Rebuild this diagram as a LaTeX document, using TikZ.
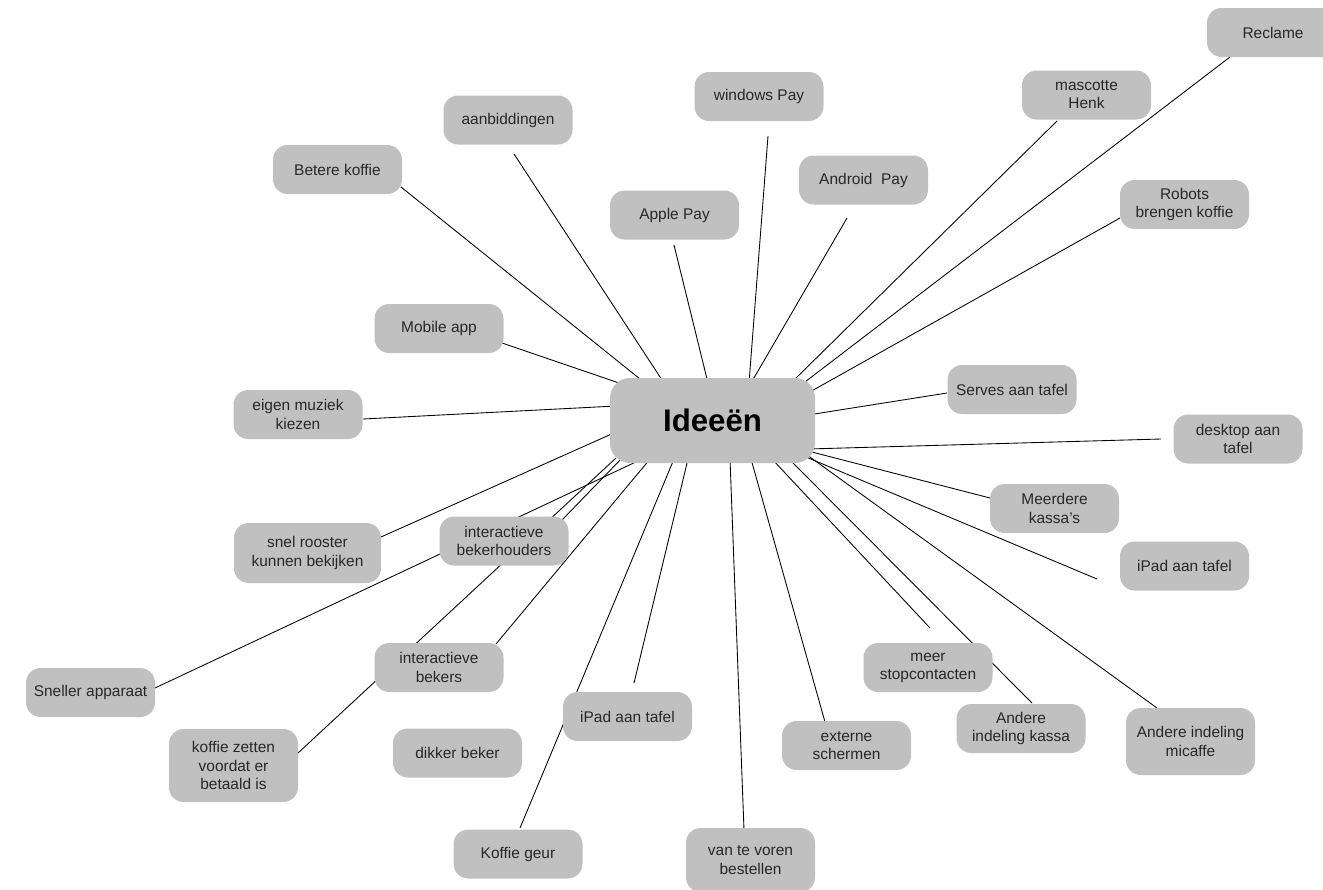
\documentclass[tikz,border=0pt]{standalone}
\usepackage{fontspec}
\setmainfont{Liberation Sans}
\usetikzlibrary{backgrounds}
\definecolor{boxgray}{RGB}{192,192,192}
\definecolor{txtgray}{RGB}{40,40,40}
\begin{document}
\begin{tikzpicture}[x=0.75pt,y=-0.75pt,
  idea/.style={fill=boxgray, rounded corners=11pt, align=center, inner sep=0pt,
    text=txtgray, font=\fontsize{11.6}{13.6}\selectfont,
    minimum width=96.75pt, minimum height=36.75pt},
  hub/.style={fill=boxgray, rounded corners=15pt, inner sep=0pt,
    font=\fontsize{23.4}{26}\selectfont\bfseries,
    minimum width=153.75pt, minimum height=63.75pt},
  link/.style={draw=black, line width=0.65pt}]
\useasboundingbox (0,0) rectangle (1323,889);

% central idea
\node[hub] (idee) at (712.5,420.5) {Ideeën};

% surrounding ideas
\node[idea, minimum width=99pt] (reclame) at (1273,32.5) {Reclame};
\node[idea] (henk) at (1086.5,95) {mascotte\\Henk};
\node[idea] (winpay) at (759,96.5) {windows Pay};
\node[idea] (aanb) at (508,120) {aanbiddingen};
\node[idea] (beter) at (337.5,169.5) {Betere koffie};
\node[idea] (andpay) at (863.5,180) {Android~~Pay};
\node[idea] (robots) at (1184.5,204.5) {Robots\\brengen koffie};
\node[idea] (applepay) at (674.5,215) {Apple Pay};
\node[idea] (mobile) at (439,328.5) {Mobile app};
\node[idea] (serves) at (1012,389.5) {Serves aan tafel};
\node[idea] (muziek) at (298,414.5) {eigen muziek\\kiezen};
\node[idea] (desktop) at (1238,439) {desktop aan\\tafel};
\node[idea] (kassas) at (1054.5,508.5) {Meerdere\\kassa's};
\node[idea] (houders) at (504,541) {interactieve\\bekerhouders};
\node[idea, minimum width=110.25pt, minimum height=45pt] (rooster) at (307.5,553) {snel rooster\\kunnen bekijken};
\node[idea] (ipadr) at (1184.5,566) {iPad aan tafel};
\node[idea] (stop) at (928,667.5) {meer\\stopcontacten};
\node[idea] (bekers) at (439,667.5) {interactieve\\bekers};
\node[idea] (sneller) at (90.5,692.5) {Sneller apparaat};
\node[idea] (ipadb) at (627.5,716.5) {iPad aan tafel};
\node[idea] (kassa) at (1021,728.5) {Andere\\indeling kassa};
\node[idea, minimum height=50.25pt] (micaffe) at (1190.5,741.5) {Andere indeling\\micaffe};
\node[idea] (extern) at (846.5,745.5) {externe\\schermen};
\node[idea, minimum height=54.75pt] (zetten) at (233.5,765.5) {koffie zetten\\voordat er\\betaald is};
\node[idea] (dikker) at (457.5,753) {dikker beker};
\node[idea] (geur) at (518,854) {Koffie geur};
\node[idea, minimum height=48pt] (voren) at (750.5,860) {van te voren\\bestellen};

% connector ends: outer point (o) and the point under the hub (h)
\coordinate (mobile-o) at (502,343);   \coordinate (mobile-h) at (622,384);
\coordinate (beter-o) at (401,187);    \coordinate (beter-h) at (645,383);
\coordinate (aanb-o) at (514,154);     \coordinate (aanb-h) at (664,383);
\coordinate (apple-o) at (674,245);    \coordinate (apple-h) at (708,383);
\coordinate (win-o) at (768,136);      \coordinate (win-h) at (749,383);
\coordinate (and-o) at (847,218);      \coordinate (and-h) at (751,383);
\coordinate (henk-o) at (1057,121);    \coordinate (henk-h) at (791,383);
\coordinate (recl-o) at (1230,57);     \coordinate (recl-h) at (801,385);
\coordinate (robots-o) at (1120,218);  \coordinate (robots-h) at (808,393);
\coordinate (serves-o) at (947,393);   \coordinate (serves-h) at (808,415);
\coordinate (muziek-o) at (363,419);   \coordinate (muziek-h) at (616,406);
\coordinate (rooster-o) at (381,537);  \coordinate (rooster-h) at (616,432);
\coordinate (desk-o) at (1161,439);    \coordinate (desk-h) at (808,449);
\coordinate (kassas-o) at (990,498);   \coordinate (kassas-h) at (808,451);
\coordinate (ipadr-o) at (1097,579);   \coordinate (ipadr-h) at (806,457);
\coordinate (mic-o) at (1157,708);     \coordinate (mic-h) at (803,452);
\coordinate (kassa-o) at (1032,703);   \coordinate (kassa-h) at (788,458);
\coordinate (stop-o) at (930,628);     \coordinate (stop-h) at (772,459);
\coordinate (ext-o) at (825,722);      \coordinate (ext-h) at (751,459);
\coordinate (voren-o) at (744,830);    \coordinate (voren-h) at (730,459);
\coordinate (ipadb-o) at (634,683);    \coordinate (ipadb-h) at (688,459);
\coordinate (geur-o) at (520,828);     \coordinate (geur-h) at (674,459);
\coordinate (bekers-o) at (496,644);   \coordinate (bekers-h) at (650,459);
\coordinate (zetten-o) at (298,753);   \coordinate (zetten-h) at (616,458);
\coordinate (houders-o) at (562,520);  \coordinate (houders-h) at (623,457);
\coordinate (sneller-o) at (155,688);  \coordinate (sneller-h) at (640,460);

\begin{scope}[on background layer]
  \foreach \n in {mobile,beter,aanb,apple,win,and,henk,recl,robots,serves,
                  muziek,rooster,desk,kassas,ipadr,mic,kassa,stop,ext,voren,
                  ipadb,geur,bekers,zetten,houders,sneller}
    \draw[link] (\n-o) -- (\n-h);
\end{scope}
\end{tikzpicture}
\end{document}
